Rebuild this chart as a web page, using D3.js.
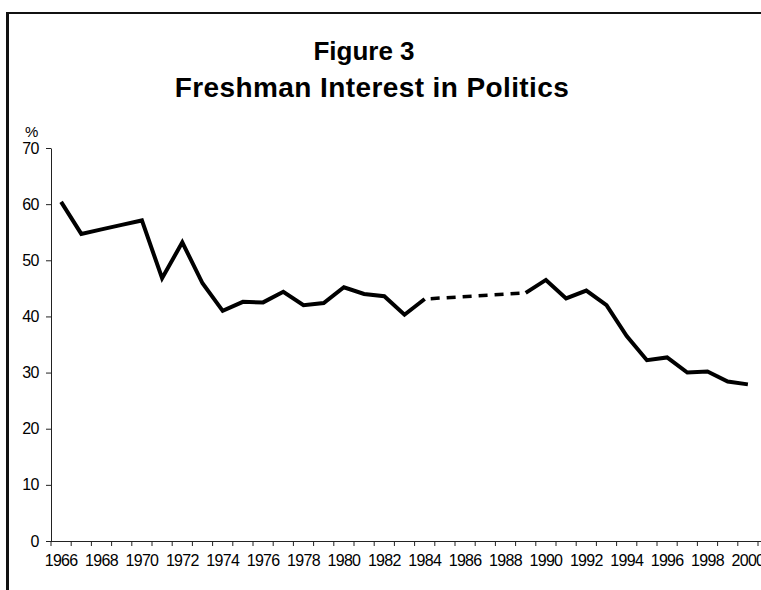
<!DOCTYPE html>
<html>
<head>
<meta charset="utf-8">
<script src="https://cdn.jsdelivr.net/npm/d3@7"></script>
<style>
  body { margin: 0; background: #fff; }
  svg { display: block; }
  text { font-family: "Liberation Sans", Arial, sans-serif; fill: #000; }
</style>
</head>
<body>
<svg id="mysvg" width="761" height="590"></svg>
<script>
// survey years (category axis), 1966-2000
var years = [1966,1967,1968,1969,1970,1971,1972,1973,1974,1975,1976,1977,1978,1979,
             1980,1981,1982,1983,1984,1985,1986,1987,1988,1989,1990,1991,1992,1993,
             1994,1995,1996,1997,1998,1999,2000];
// % of freshmen interested in politics, no survey values 1985-1988
var interest = [60.4,54.7,55.5,56.3,57.1,46.8,53.2,45.9,41.0,42.6,42.5,44.4,42.0,42.4,
                45.2,44.0,43.6,40.3,43.1,null,null,null,null,44.2,46.5,43.2,44.6,42.0,
                36.5,32.2,32.7,30.0,30.2,28.4,27.9];
var yTicks = [0,10,20,30,40,50,60,70];
var labelYears = years.filter(function(d){ return d % 2 === 0; });

var mydata = years.map(function(d,i){ return {x:d, y:interest[i]}; });

var svg = d3.select("#mysvg");

// frame of the scanned figure
svg.append("line").attr("x1",6).attr("x2",761).attr("y1",13).attr("y2",13)
   .attr("stroke","#111").attr("stroke-width",2);
svg.append("line").attr("x1",7.5).attr("x2",7.5).attr("y1",12).attr("y2",590)
   .attr("stroke","#111").attr("stroke-width",3);

var plotLeft = 51, plotTop = 148, plotBottom = 541;
var x = d3.scaleBand().domain(years).range([plotLeft, plotLeft + years.length*20.2]).padding(0);
var y = d3.scaleLinear().domain([0,70]).range([plotBottom, plotTop]);
function cx(d){ return x(d) + x.bandwidth()/2; }

// titles
svg.append("text").attr("x",364).attr("y",60).attr("text-anchor","middle")
   .style("font-size","26px").style("font-weight","bold").text("Figure 3");
svg.append("text").attr("x",372).attr("y",97).attr("text-anchor","middle")
   .style("font-size","28px").style("font-weight","bold").style("letter-spacing","0.4px")
   .text("Freshman Interest in Politics");
svg.append("text").attr("x",25).attr("y",137)
   .style("font-size","15px").text("%");

// y axis
var gy = svg.append("g").attr("transform","translate(" + plotLeft + ",0)")
   .call(d3.axisLeft(y).tickValues(yTicks).tickSize(5).tickSizeOuter(0));
gy.select(".domain").attr("stroke","#222");
gy.selectAll(".tick line").attr("stroke","#222");
gy.selectAll("text").style("font-size","16px").style("letter-spacing","-0.5px").attr("dx","-4");

// x axis: ticks on category boundaries, labels every two years
var gx = svg.append("g");
gx.append("line").attr("x1",plotLeft).attr("x2",761).attr("y1",plotBottom+0.5).attr("y2",plotBottom+0.5)
   .attr("stroke","#222");
gx.selectAll(".xt").data(years.concat([null])).enter().append("line")
   .attr("x1",function(d){ return d===null ? x.range()[1] : x(d); })
   .attr("x2",function(d){ return d===null ? x.range()[1] : x(d); })
   .attr("y1",plotBottom).attr("y2",plotBottom+5).attr("stroke","#222");
gx.selectAll(".xl").data(labelYears).enter().append("text")
   .attr("x",function(d){ return cx(d); }).attr("y",plotBottom+25)
   .attr("text-anchor","middle").style("font-size","16px").style("letter-spacing","-0.7px")
   .text(function(d){ return d; });

// solid line where data exists
var line = d3.line().defined(function(d){ return d.y !== null; })
   .x(function(d){ return cx(d.x); }).y(function(d){ return y(d.y); });
svg.append("path").datum(mydata).attr("d",line)
   .attr("fill","none").attr("stroke","#000").attr("stroke-width",4)
   .attr("stroke-linejoin","miter");

// dashed bridge over the missing years
var gapStart = mydata[years.indexOf(1984)], gapEnd = mydata[years.indexOf(1989)];
svg.append("path").datum([gapStart, gapEnd]).attr("d",line)
   .attr("fill","none").attr("stroke","#000").attr("stroke-width",3.5)
   .attr("stroke-dasharray","9,7").attr("stroke-dashoffset",-6);
</script>
</body>
</html>
